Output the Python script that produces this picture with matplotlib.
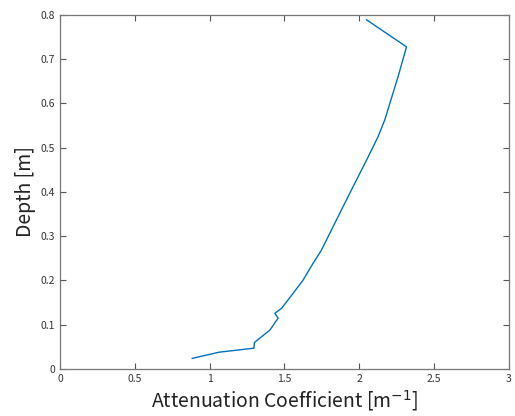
import matplotlib
matplotlib.use("Agg")
import matplotlib.pyplot as plt

# attenuation coefficient [1/m] vs depth [m]
atten = [0.884, 1.064, 1.296, 1.300, 1.403, 1.458, 1.436, 1.481, 1.558,
         1.625, 1.692, 1.748, 1.804, 1.870, 1.959, 2.049, 2.126, 2.171,
         2.260, 2.316, 2.049]
depth = [0.024, 0.038, 0.047, 0.060, 0.088, 0.115, 0.126, 0.137, 0.171,
         0.201, 0.239, 0.269, 0.307, 0.352, 0.412, 0.472, 0.525, 0.563,
         0.661, 0.728, 0.789]

xticks = [0, 0.5, 1, 1.5, 2, 2.5, 3]
yticks = [0, 0.1, 0.2, 0.3, 0.4, 0.5, 0.6, 0.7, 0.8]

plt.rcParams['font.family'] = ['Noto Sans CJK JP', 'DejaVu Sans']

fig = plt.figure(figsize=(5.15, 4.16), dpi=100)
ax = fig.add_axes([0.1165, 0.113, 0.8715, 0.851])
ax.plot(atten, depth, color='#0072BD', lw=1)

ax.set_xlim(0, 3)
ax.set_ylim(0, 0.8)
ax.set_xticks(xticks)
ax.set_yticks(yticks)
ax.set_xticklabels(['0', '0.5', '1', '1.5', '2', '2.5', '3'])
ax.set_yticklabels(['0', '0.1', '0.2', '0.3', '0.4', '0.5', '0.6', '0.7', '0.8'])
ax.tick_params(direction='in', top=True, right=True, length=4, width=0.8,
               labelsize=7.5, colors='#555555', labelcolor='#333333')
for s in ax.spines.values():
    s.set_color('#777777')
    s.set_linewidth(0.9)

ax.set_xlabel('Attenuation Coefficient [m$^{-1}$]', fontsize=14, color='#222222', labelpad=3)
ax.set_ylabel('Depth [m]', fontsize=14, color='#222222', labelpad=3)

fig.savefig('out.png', dpi=100)
